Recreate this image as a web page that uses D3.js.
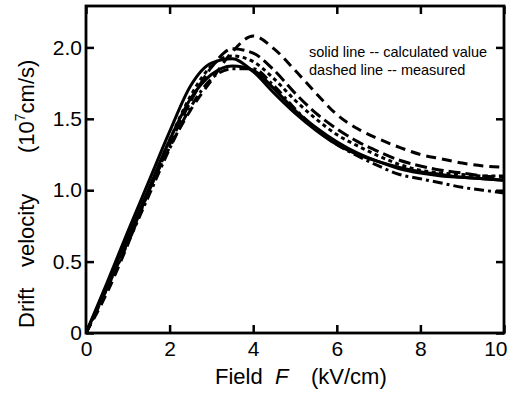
<!DOCTYPE html>
<html>
<head>
<meta charset="utf-8">
<script src="https://cdn.jsdelivr.net/npm/d3@7/dist/d3.min.js"></script>
<style>
  html, body { margin: 0; padding: 0; background: #fff; }
  svg { display: block; }
  text { font-family: "Liberation Sans", Arial, sans-serif; fill: #000; }
</style>
</head>
<body>
<svg id="chart" width="508" height="394"></svg>
<script>
// Field values (kV/cm) shared by every curve
const field = [0, 0.5, 1, 1.5, 2, 2.5, 3, 3.5, 4, 4.5, 5, 5.5, 6, 6.5, 7, 7.5, 8, 8.5, 9, 9.5, 10];

// Drift velocity (10^7 cm/s), calculated curves
const calcA = [0, 0.35, 0.71, 1.06, 1.41, 1.73, 1.89, 1.92, 1.83, 1.68, 1.54, 1.42, 1.32, 1.25, 1.20, 1.16, 1.13, 1.11, 1.09, 1.08, 1.07];
const calcB = [0, 0.33, 0.67, 1.01, 1.35, 1.64, 1.81, 1.87, 1.84, 1.71, 1.56, 1.44, 1.34, 1.26, 1.20, 1.15, 1.12, 1.10, 1.09, 1.08, 1.07];

// Drift velocity (10^7 cm/s), measured curves
const measHigh   = [0, 0.28, 0.62, 0.99, 1.30, 1.56, 1.77, 1.97, 2.08, 1.99, 1.84, 1.68, 1.53, 1.43, 1.36, 1.30, 1.25, 1.22, 1.19, 1.17, 1.16];
const measMid    = [0, 0.31, 0.64, 0.99, 1.32, 1.62, 1.86, 1.99, 1.96, 1.84, 1.68, 1.54, 1.43, 1.34, 1.27, 1.21, 1.17, 1.14, 1.12, 1.10, 1.09];
const measDot    = [0, 0.32, 0.66, 1.00, 1.35, 1.66, 1.87, 1.94, 1.90, 1.78, 1.63, 1.50, 1.39, 1.31, 1.24, 1.18, 1.14, 1.12, 1.11, 1.10, 1.10];
const measDashDot= [0, 0.31, 0.63, 0.96, 1.29, 1.58, 1.78, 1.85, 1.85, 1.73, 1.57, 1.43, 1.32, 1.24, 1.17, 1.11, 1.08, 1.05, 1.02, 1.00, 0.98];

const xTicks = [0, 2, 4, 6, 8, 10];
const yTicks = [0, 0.5, 1.0, 1.5, 2.0];
const yTickLabels = ["0", "0.5", "1.0", "1.5", "2.0"];

const curves = [
  { values: calcA,       dash: null },
  { values: calcB,       dash: null },
  { values: measHigh,    dash: "10,6" },
  { values: measMid,     dash: "12,5" },
  { values: measDot,     dash: "4,3.5" },
  { values: measDashDot, dash: "10,4,3,4" }
];

const svg = d3.select("#chart");
const plotLeft = 86, plotRight = 504, plotTop = 6, plotBottom = 333;

const x = d3.scaleLinear().domain([0, 10]).range([plotLeft, plotRight]);
const y = d3.scaleLinear().domain([0, 2.29]).range([plotBottom, plotTop]);

// Curves
const line = d3.line()
  .x((d, i) => x(field[i]))
  .y(d => y(d))
  .curve(d3.curveMonotoneX);

svg.append("clipPath").attr("id", "clip")
  .append("rect").attr("x", plotLeft).attr("y", plotTop)
  .attr("width", plotRight - plotLeft).attr("height", plotBottom - plotTop);

svg.append("g").selectAll("path.curve")
  .data(curves)
  .join("path")
  .attr("class", "curve")
  .attr("clip-path", "url(#clip)")
  .attr("d", d => line(d.values))
  .attr("fill", "none")
  .attr("stroke", "#000")
  .attr("stroke-width", 3)
  .attr("stroke-dasharray", d => d.dash)
  .attr("stroke-linecap", "butt");

// Axes with inward ticks on all four sides
const tickLen = 8;
const xAxisB = d3.axisBottom(x).tickValues(xTicks).tickSize(-tickLen).tickPadding(8).tickFormat(d3.format("d"));
const xAxisT = d3.axisTop(x).tickValues(xTicks).tickSize(-tickLen).tickFormat("");
const yAxisL = d3.axisLeft(y).tickValues(yTicks).tickSize(-tickLen).tickPadding(4).tickFormat((d, i) => yTickLabels[i]);
const yAxisR = d3.axisRight(y).tickValues(yTicks).tickSize(-tickLen).tickFormat("");

function styleAxis(g) {
  g.select(".domain").remove();
  g.selectAll(".tick line").attr("stroke", "#000").attr("stroke-width", 2.5);
  g.selectAll(".tick text").attr("font-size", 21).attr("font-family", "Liberation Sans, Arial, sans-serif").attr("fill", "#000");
}

const gxb = svg.append("g").attr("transform", `translate(0,${plotBottom})`).call(xAxisB).call(styleAxis);
// keep the last label inside the page edge
gxb.selectAll(".tick text").filter(d => d === 10).attr("text-anchor", "end").attr("dx", 3);
svg.append("g").attr("transform", `translate(0,${plotTop})`).call(xAxisT).call(styleAxis);
svg.append("g").attr("transform", `translate(${plotLeft},0)`).call(yAxisL).call(styleAxis);
svg.append("g").attr("transform", `translate(${plotRight},0)`).call(yAxisR).call(styleAxis);

// Frame
svg.append("rect")
  .attr("x", plotLeft).attr("y", plotTop)
  .attr("width", plotRight - plotLeft).attr("height", plotBottom - plotTop)
  .attr("fill", "none").attr("stroke", "#000").attr("stroke-width", 2.8);

// Axis titles
const xt = svg.append("text").attr("y", 384).attr("font-size", 22);
xt.append("tspan").attr("x", 215).text("Field");
xt.append("tspan").attr("x", 275).attr("font-style", "italic").text("F");
xt.append("tspan").attr("x", 311).text("(kV/cm)");

function yTitle(text, yStart) {
  return svg.append("text")
    .attr("transform", `translate(34,${yStart}) rotate(-90)`)
    .attr("font-size", 22)
    .text(text);
}
yTitle("Drift", 328);
yTitle("velocity", 267);
const unit = svg.append("text")
  .attr("transform", "translate(34,153) rotate(-90)")
  .attr("font-size", 22);
unit.append("tspan").text("(10");
unit.append("tspan").attr("font-size", 14).attr("dy", -9).text("7");
unit.append("tspan").attr("dy", 9).text("cm/s)");

// Legend notes
svg.append("text").attr("x", 309).attr("y", 57).attr("font-size", 14.5).text("solid line -- calculated value");
svg.append("text").attr("x", 309).attr("y", 75).attr("font-size", 14.5).text("dashed line -- measured");
</script>
</body>
</html>
